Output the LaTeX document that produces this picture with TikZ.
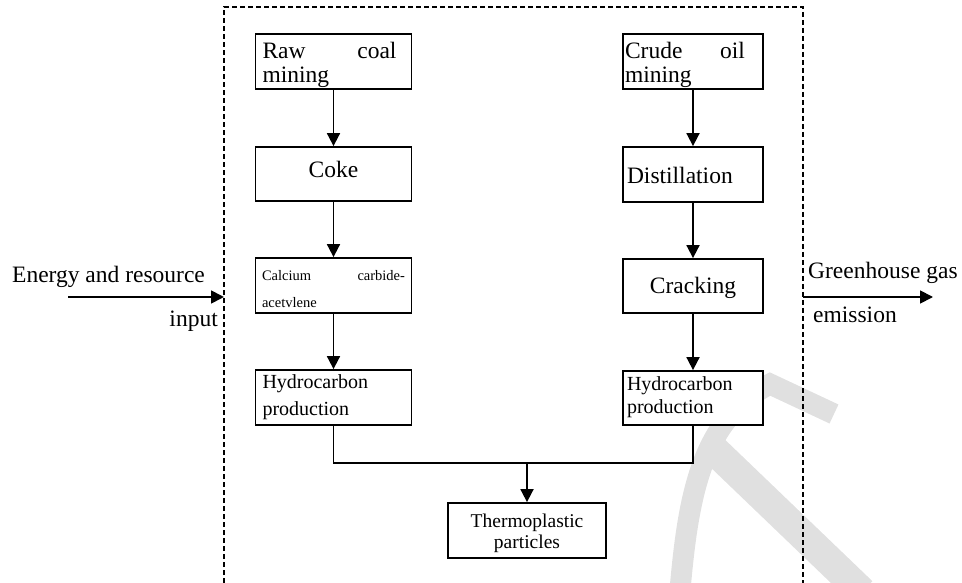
\documentclass[tikz,border=0pt]{standalone}
\usepackage{fontspec}
\setmainfont{Liberation Serif}
\usetikzlibrary{arrows.meta}
\definecolor{wmgray}{HTML}{E0E0E0}
\tikzset{
  proc/.style={draw=black, line width=1.8pt, fill=white, inner ysep=0pt,
    minimum height=0pt, font=\fontsize{23.5}{24}\selectfont},
  flow/.style={line width=1.8pt, -{Triangle[length=13pt,width=13pt]}},
  link/.style={line width=1.8pt},
  frame/.style={line width=1.4pt, dash pattern=on 5pt off 3pt},
  side/.style={inner sep=0pt, font=\fontsize{23.5}{24}\selectfont},
  wm/.style={draw=wmgray, line cap=butt},
}
\begin{document}
\begin{tikzpicture}[x=1pt, y=-1pt]
\useasboundingbox (0,0) rectangle (962,583);

% faint background mark
\draw[wm, line width=21pt] (680,590) .. controls (688,500) and (700,420) .. (770,384) -- (834,414);
\draw[wm, line width=30pt] (712,448) -- (862,592);

% system boundary
\draw[frame] (224,583) -- (224,7) -- (803,7) -- (803,583);

% coal route
\node[proc, text width=142pt, inner xsep=7pt, text height=25pt, text depth=30pt, align=left]
  (raw) at (333.5,61.5) {\hbox to 134pt{Raw\hfill coal}\\mining};
\node[proc, text width=142pt, inner xsep=7pt, text height=31pt, text depth=23pt, align=center]
  (coke) at (333.5,174) {Coke};
\node[proc, text width=143pt, inner xsep=6.5pt, text height=22pt, text depth=33pt, align=left,
  font=\fontsize{14.5}{27}\selectfont]
  (calc) at (333.5,285.5) {\hbox to 143pt{Calcium\hfill carbide-}\\acetvlene};
\node[proc, text width=142pt, inner xsep=7pt, text height=18pt, text depth=37pt, align=left,
  font=\fontsize{20}{27}\selectfont]
  (hydL) at (333.5,397.5) {Hydrocarbon\\production};

% oil route
\node[proc, text width=136pt, inner xsep=2pt, text height=25pt, text depth=30pt, align=left]
  (crude) at (693,61.5) {\hbox to 120pt{Crude\hfill oil}\\mining};
\node[proc, text width=132pt, inner xsep=4pt, text height=37pt, text depth=18pt, align=left]
  (dist) at (693,174.5) {Distillation};
\node[proc, text width=132pt, inner xsep=4pt, text height=34pt, text depth=20pt, align=center]
  (crack) at (693,286) {Cracking};
\node[proc, text width=132pt, inner xsep=4pt, text height=19pt, text depth=35pt, align=left,
  font=\fontsize{20}{23}\selectfont]
  (hydR) at (693,398) {Hydrocarbon\\production};

% product
\node[proc, text width=150pt, inner xsep=4pt, text height=24pt, text depth=31pt, align=center,
  font=\fontsize{19.5}{21}\selectfont]
  (thermo) at (527,530.5) {Thermoplastic\\particles};

% flows inside the boundary
\draw[flow] (raw) -- (coke);
\draw[flow] (coke) -- (calc);
\draw[flow] (calc) -- (hydL);
\draw[flow] (crude) -- (dist);
\draw[flow] (dist) -- (crack);
\draw[flow] (crack) -- (hydR);

\coordinate (jL) at (333.5,463);
\coordinate (jR) at (693,463);
\coordinate (jM) at (527,463);
\draw[link] (hydL.south) -- (jL) -- (jR) -- (hydR.south);
\draw[flow] (jM) -- (thermo.north);

% input and output across the boundary
\coordinate (inS) at (68,297);
\coordinate (inE) at (224,297);
\draw[flow] (inS) -- (inE);
\node[side, anchor=base west] (inA) at (12,282) {Energy and resource};
\node[side, anchor=base east] (inB) at (218,326) {input};

\coordinate (outS) at (803,297);
\coordinate (outE) at (933,297);
\draw[flow] (outS) -- (outE);
\node[side, anchor=base west] (outA) at (808,278) {Greenhouse gas};
\node[side, anchor=base west] (outB) at (813,322) {emission};
\end{tikzpicture}
\end{document}
